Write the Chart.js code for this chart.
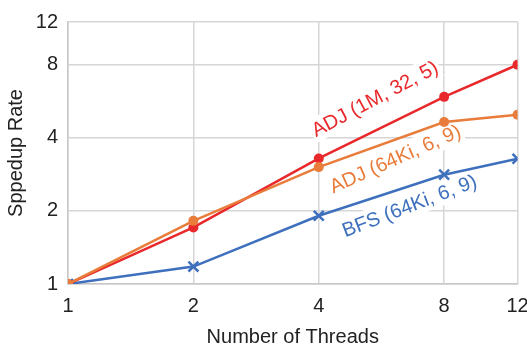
<!DOCTYPE html>
<html lang="en">
  <head>
    <meta charset="UTF-8" />
    <title>Speedup</title>
    <script src="https://cdn.jsdelivr.net/npm/chart.js"></script>
    <style>
      html, body { margin: 0; padding: 0; background: #fff; }
      #box { width: 527px; height: 347px; }
    </style>
  </head>
  <body>
    <div id="box"><canvas id="grafico"></canvas></div>
  </body>
</html>

<script>
  // dados
  const threads = [1, 2, 4, 8, 12];
  const tickValues = [1, 2, 4, 8, 12];

  const adj1M = [1.0, 1.71, 3.29, 5.9, 8.0];
  const adj64Ki = [1.0, 1.82, 3.03, 4.65, 4.98];
  const bfs64Ki = [1.0, 1.18, 1.91, 2.82, 3.28];

  // rótulos das séries, ancorados em coordenadas de dados
  const labelTexts = ["ADJ (1M, 32, 5)", "ADJ (64Ki, 6, 9)", "BFS (64Ki, 6, 9)"];
  const labelX = [5.45, 6.1, 6.6];
  const labelY = [5.8, 3.28, 2.1];
  const labelAngle = [-28, -24, -21];

  const RED = "#e8282b";
  const ORANGE = "#e97c3a";
  const BLUE = "#3e70be";
  const labelColors = [RED, ORANGE, BLUE];

  const FONT = "'Liberation Sans', Arial, sans-serif";

  function pontos(ys) {
    return threads.map((x, i) => ({ x: x, y: ys[i] }));
  }

  // desenha os textos inclinados com fundo branco (por cima da grade, por baixo das linhas)
  const rotulos = {
    id: "rotulos",
    beforeDatasetsDraw(chart) {
      const ctx = chart.ctx;
      const sx = chart.scales.x;
      const sy = chart.scales.y;
      ctx.save();
      ctx.font = "20px " + FONT;
      ctx.textAlign = "center";
      ctx.textBaseline = "middle";
      for (let i = 0; i < labelTexts.length; i++) {
        const px = sx.getPixelForValue(labelX[i]);
        const py = sy.getPixelForValue(labelY[i]);
        const w = ctx.measureText(labelTexts[i]).width;
        ctx.save();
        ctx.translate(px, py);
        ctx.rotate((labelAngle[i] * Math.PI) / 180);
        ctx.fillStyle = "#fff";
        ctx.fillRect(-w / 2 - 2, -12, w + 4, 24);
        ctx.fillStyle = labelColors[i];
        ctx.fillText(labelTexts[i], 0, 1);
        ctx.restore();
      }
      ctx.restore();
    },
  };

  const dados = {
    datasets: [
      {
        label: labelTexts[1],
        data: pontos(adj64Ki),
        borderColor: ORANGE,
        backgroundColor: ORANGE,
        borderWidth: 2.5,
        pointStyle: "circle",
        pointRadius: 5,
        pointBorderWidth: 0,
        order: 0,
      },
      {
        label: labelTexts[0],
        data: pontos(adj1M),
        borderColor: RED,
        backgroundColor: RED,
        borderWidth: 2.5,
        pointStyle: "circle",
        pointRadius: 5,
        pointBorderWidth: 0,
        order: 1,
      },
      {
        label: labelTexts[2],
        data: pontos(bfs64Ki),
        borderColor: BLUE,
        backgroundColor: BLUE,
        borderWidth: 2.5,
        pointStyle: "crossRot",
        pointRadius: 7,
        pointBorderWidth: 2.5,
        order: 2,
      },
    ],
  };

  const config = {
    type: "line",
    data: dados,
    plugins: [rotulos],
    options: {
      responsive: false,
      animation: false,
      devicePixelRatio: 1,
      layout: { padding: { top: 21, right: 9, left: 0, bottom: 0 } },
      plugins: { legend: { display: false }, tooltip: { enabled: false } },
      scales: {
        x: {
          type: "logarithmic",
          min: 1,
          max: 12,
          afterBuildTicks: (s) => { s.ticks = tickValues.map((v) => ({ value: v })); },
          afterFit: (s) => {
            s.height = 63;
            s.paddingLeft = 0;
            s.paddingRight = 0;
          },
          ticks: {
            autoSkip: false,
            maxRotation: 0,
            padding: 10,
            color: "#222",
            font: { family: FONT, size: 20 },
            callback: (v) => String(v),
          },
          grid: { color: "#d6d6d6", lineWidth: 1.5, drawTicks: false },
          border: { color: "#c8c8c8", width: 1.5 },
          title: {
            display: true,
            text: "Number of Threads",
            color: "#222",
            font: { family: FONT, size: 20, lineHeight: 1 },
            padding: { top: 4, bottom: 0 },
          },
        },
        y: {
          type: "logarithmic",
          min: 1,
          max: 12,
          afterBuildTicks: (s) => { s.ticks = tickValues.map((v) => ({ value: v })); },
          afterFit: (s) => { s.width = 68; },
          ticks: {
            autoSkip: false,
            padding: 10,
            color: "#222",
            font: { family: FONT, size: 20 },
            callback: (v) => String(v),
          },
          grid: { color: "#d6d6d6", lineWidth: 1.5, drawTicks: false },
          border: { color: "#c8c8c8", width: 1.5 },
          title: {
            display: true,
            text: "Sppedup Rate",
            color: "#222",
            font: { family: FONT, size: 20 },
            padding: { bottom: 2 },
          },
        },
      },
    },
  };

  const canvas = document.getElementById("grafico");
  canvas.width = 527;
  canvas.height = 347;
  new Chart(canvas, config);
</script>
